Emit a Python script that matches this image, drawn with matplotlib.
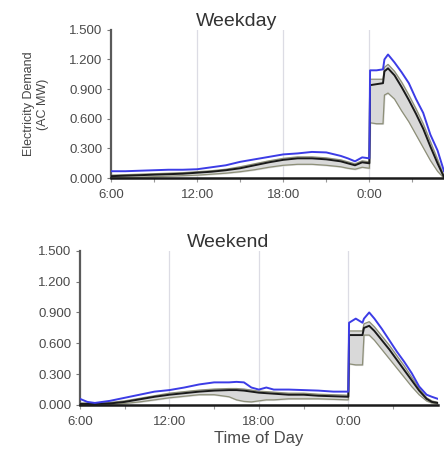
import matplotlib
matplotlib.use('Agg')
import matplotlib.pyplot as plt
import numpy as np

plt.rcParams['font.family'] = ['Liberation Sans', 'DejaVu Sans']

# Weekday profile (hours since midnight, >24 means next day)
hours_wd = [6, 7, 8, 9, 10, 11, 12, 13, 14, 15, 16, 17, 18, 19, 20, 21, 22, 22.5, 23, 23.5, 24,
            24.05, 24.5, 24.95, 25.05, 25.3, 25.75, 26.25, 26.75, 27.25, 27.75, 28.25, 28.75, 29.2]
blue_wd = [0.07, 0.07, 0.075, 0.08, 0.085, 0.085, 0.09, 0.11, 0.13, 0.165, 0.19, 0.215, 0.24, 0.25, 0.265, 0.26,
           0.225, 0.2, 0.17, 0.21, 0.2,
           1.09, 1.09, 1.1, 1.2, 1.25, 1.17, 1.07, 0.96, 0.8, 0.66, 0.44, 0.28, 0.07]
mean_wd = [0.02, 0.025, 0.03, 0.035, 0.04, 0.045, 0.055, 0.065, 0.08, 0.1, 0.13, 0.16, 0.185, 0.2, 0.2, 0.19,
           0.17, 0.15, 0.13, 0.16, 0.15,
           0.94, 0.95, 0.96, 1.08, 1.11, 1.04, 0.92, 0.79, 0.65, 0.5, 0.32, 0.15, 0.01]
upper_wd = [0.03, 0.035, 0.04, 0.045, 0.05, 0.055, 0.065, 0.075, 0.09, 0.115, 0.145, 0.175, 0.2, 0.215, 0.215, 0.205,
            0.185, 0.165, 0.145, 0.175, 0.165,
            1.0, 1.0, 1.0, 1.12, 1.15, 1.08, 0.97, 0.84, 0.7, 0.55, 0.37, 0.19, 0.02]
lower_wd = [0.005, 0.01, 0.01, 0.015, 0.02, 0.025, 0.03, 0.04, 0.05, 0.065, 0.085, 0.11, 0.13, 0.14, 0.14, 0.13,
            0.115, 0.1, 0.09, 0.11, 0.1,
            0.56, 0.55, 0.55, 0.84, 0.86, 0.8, 0.68, 0.57, 0.44, 0.31, 0.18, 0.07, 0.0]

# Weekend profile
hours_we = [6, 6.5, 7, 8, 9, 10, 11, 12, 13, 14, 15, 16, 16.5, 17, 17.5, 18, 18.5, 19, 20, 21, 22, 23, 24,
            24.05, 24.5, 24.95, 25.05, 25.4, 25.75, 26.25, 26.75, 27.25, 27.75, 28.25, 28.75, 29.25, 29.6, 30]
blue_we = [0.06, 0.03, 0.02, 0.04, 0.07, 0.1, 0.13, 0.145, 0.17, 0.2, 0.22, 0.22, 0.225, 0.22, 0.17, 0.15, 0.17,
           0.15, 0.15, 0.145, 0.14, 0.13, 0.13,
           0.8, 0.84, 0.8, 0.84, 0.9, 0.84, 0.74, 0.63, 0.52, 0.42, 0.31, 0.18, 0.1, 0.08, 0.06]
mean_we = [0.01, 0.01, 0.01, 0.015, 0.03, 0.055, 0.08, 0.1, 0.115, 0.13, 0.14, 0.145, 0.145, 0.14, 0.13, 0.12,
           0.115, 0.11, 0.1, 0.1, 0.09, 0.085, 0.08,
           0.68, 0.68, 0.68, 0.75, 0.77, 0.72, 0.63, 0.54, 0.44, 0.34, 0.24, 0.14, 0.06, 0.03, 0.02]
upper_we = [0.02, 0.02, 0.02, 0.025, 0.04, 0.065, 0.09, 0.115, 0.13, 0.145, 0.155, 0.16, 0.16, 0.155, 0.145, 0.135,
            0.13, 0.125, 0.115, 0.115, 0.105, 0.1, 0.095,
            0.72, 0.72, 0.72, 0.79, 0.81, 0.76, 0.67, 0.58, 0.48, 0.38, 0.27, 0.16, 0.07, 0.04, 0.025]
lower_we = [0.0, 0.0, 0.0, 0.005, 0.015, 0.03, 0.05, 0.07, 0.085, 0.1, 0.1, 0.08, 0.05, 0.035, 0.03, 0.04,
            0.05, 0.05, 0.06, 0.06, 0.06, 0.055, 0.05,
            0.4, 0.39, 0.39, 0.68, 0.68, 0.63, 0.54, 0.45, 0.36, 0.27, 0.18, 0.1, 0.04, 0.02, 0.01]

xticks = [6, 12, 18, 24]
xtick_labels = ['6:00', '12:00', '18:00', '0:00']
yticks = [0.0, 0.3, 0.6, 0.9, 1.2, 1.5]

fig = plt.figure(figsize=(4.44, 4.51), dpi=100)
fig.patch.set_facecolor('white')

ax1 = fig.add_axes([0.25, 0.605, 0.75, 0.329])
ax2 = fig.add_axes([0.18, 0.102, 0.806, 0.342])


def draw(ax, h, blue, mean, upper, lower, xmax, title, title_x):
    for g in [12, 18, 24]:
        ax.axvline(g, color='#dcdce4', lw=0.9, zorder=0)
    ax.fill_between(h, lower, upper, color='#d9d9d9', zorder=1)
    ax.plot(h, lower, color='#8d8f78', lw=0.9, zorder=2)
    ax.plot(h, upper, color='#8d8f78', lw=0.9, zorder=2)
    ax.plot(h, mean, color='#1a1a1a', lw=1.4, zorder=3)
    ax.plot(h, blue, color='#3c3ce6', lw=1.4, zorder=4)
    ax.set_xlim(6, xmax)
    ax.set_ylim(0, 1.5)
    ax.set_xticks(xticks)
    ax.set_xticklabels(xtick_labels)
    ax.set_xticks([9, 15, 21, 27], minor=True)
    ax.set_yticks(yticks)
    ax.set_yticklabels(['%.3f' % v for v in yticks])
    for s in ['top', 'right']:
        ax.spines[s].set_visible(False)
    ax.spines['left'].set_color('#5a5a5a')
    ax.spines['left'].set_linewidth(1.6)
    ax.spines['bottom'].set_color('#1a1a1a')
    ax.spines['bottom'].set_linewidth(1.8)
    ax.tick_params(axis='y', length=3, width=0.8, color='#777777', labelsize=9.5, labelcolor='#4a4a4a', pad=3)
    ax.tick_params(axis='x', which='both', length=3, width=0.8, color='#999999', labelsize=9.5,
                   labelcolor='#4a4a4a', pad=5)
    ax.set_title(title, fontsize=14, color='#333333', pad=1, x=title_x)


draw(ax1, hours_wd, blue_wd, mean_wd, upper_wd, lower_wd, 29.2, 'Weekday', 0.378)
draw(ax2, hours_we, blue_we, mean_we, upper_we, lower_we, 30, 'Weekend', 0.413)

ax1.set_ylabel('Electricity Demand\n(AC MW)', fontsize=9, color='#444444', linespacing=1.3)
ax1.yaxis.set_label_coords(-0.185, 0.5)
ax2.set_xlabel('Time of Day', fontsize=12, color='#4a4a4a', labelpad=2)

fig.savefig('out.png', dpi=100, facecolor='white')
